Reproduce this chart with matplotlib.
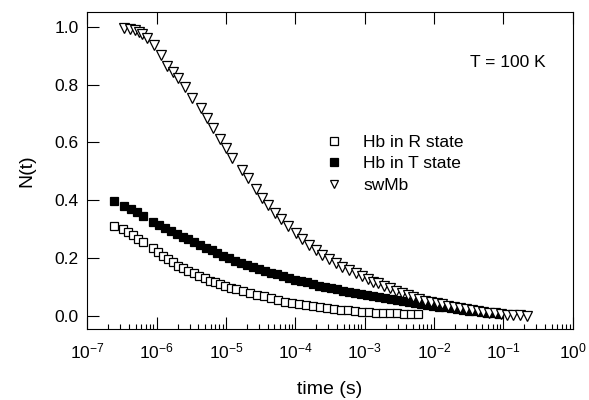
import matplotlib
matplotlib.use('Agg')
import matplotlib.pyplot as plt
from matplotlib.ticker import LogLocator, NullFormatter, FormatStrFormatter

plt.rcParams['font.family'] = ['Liberation Sans', 'DejaVu Sans']
plt.rcParams['mathtext.default'] = 'regular'

# Hb in R state (open squares)
t_R = [2.42e-7, 3.23e-7, 3.89e-7, 4.60e-7, 5.43e-7, 6.28e-7, 8.93e-7, 1.05e-6,
       1.25e-6, 1.47e-6, 1.74e-6, 2.05e-6, 2.42e-6, 2.86e-6, 3.45e-6, 4.12e-6,
       4.98e-6, 5.88e-6, 6.94e-6, 8.19e-6, 9.67e-6, 1.17e-5, 1.39e-5, 1.76e-5,
       2.22e-5, 2.80e-5, 3.53e-5, 4.46e-5, 5.63e-5, 7.10e-5, 8.96e-5, 1.13e-4,
       1.43e-4, 1.80e-4, 2.27e-4, 2.87e-4, 3.62e-4, 4.56e-4, 5.76e-4, 7.27e-4,
       9.17e-4, 1.16e-3, 1.46e-3, 1.84e-3, 2.33e-3, 2.93e-3, 3.70e-3, 4.67e-3,
       5.90e-3]
N_R = [0.311, 0.300, 0.291, 0.279, 0.265, 0.254, 0.233, 0.221,
       0.208, 0.196, 0.185, 0.173, 0.164, 0.155, 0.147, 0.138,
       0.129, 0.121, 0.116, 0.109, 0.103, 0.097, 0.091, 0.085,
       0.079, 0.073, 0.067, 0.061, 0.055, 0.049, 0.045, 0.041,
       0.038, 0.034, 0.031, 0.028, 0.024, 0.021, 0.019, 0.016,
       0.014, 0.012, 0.011, 0.010, 0.009, 0.008, 0.007, 0.006,
       0.005]

# Hb in T state (filled squares)
t_T = [2.42e-7, 3.37e-7, 4.22e-7, 5.25e-7, 6.28e-7, 8.93e-7, 1.09e-6, 1.32e-6,
       1.59e-6, 1.94e-6, 2.37e-6, 2.86e-6, 3.45e-6, 4.22e-6, 5.14e-6, 6.22e-6,
       7.49e-6, 9.14e-6, 1.12e-5, 1.35e-5, 1.65e-5, 2.01e-5, 2.45e-5, 2.99e-5,
       3.65e-5, 4.46e-5, 5.44e-5, 6.65e-5, 8.11e-5, 9.90e-5, 1.21e-4, 1.48e-4,
       1.80e-4, 2.20e-4, 2.68e-4, 3.27e-4, 4.00e-4, 4.88e-4, 5.96e-4, 7.27e-4,
       8.87e-4, 1.08e-3, 1.32e-3, 1.61e-3, 1.97e-3, 2.40e-3, 2.93e-3, 3.58e-3,
       4.37e-3, 5.34e-3, 6.51e-3, 7.95e-3, 9.70e-3, 1.18e-2, 1.45e-2, 1.77e-2,
       2.15e-2, 2.63e-2, 3.21e-2, 3.92e-2, 4.78e-2, 5.84e-2, 7.12e-2, 8.70e-2]
N_T = [0.397, 0.379, 0.368, 0.358, 0.346, 0.323, 0.314, 0.305,
       0.294, 0.284, 0.273, 0.264, 0.255, 0.245, 0.235, 0.226,
       0.217, 0.208, 0.199, 0.189, 0.181, 0.174, 0.167, 0.160,
       0.154, 0.148, 0.143, 0.137, 0.131, 0.125, 0.120, 0.115,
       0.110, 0.104, 0.099, 0.095, 0.091, 0.086, 0.082, 0.079,
       0.075, 0.072, 0.068, 0.065, 0.061, 0.058, 0.054, 0.051,
       0.047, 0.044, 0.040, 0.037, 0.034, 0.031, 0.029, 0.026,
       0.023, 0.020, 0.018, 0.015, 0.012, 0.010, 0.008, 0.006]

# swMb (open down-triangles)
t_sw = [3.41e-7, 4.12e-7, 4.86e-7, 5.55e-7, 6.20e-7, 7.17e-7, 9.23e-7, 1.14e-6,
        1.39e-6, 1.70e-6, 2.05e-6, 2.56e-6, 3.26e-6, 4.36e-6, 5.27e-6, 6.56e-6,
        8.19e-6, 9.90e-6, 1.21e-5, 1.69e-5, 2.06e-5, 2.68e-5, 3.34e-5, 4.00e-5,
        5.10e-5, 6.22e-5, 7.93e-5, 1.01e-4, 1.26e-4, 1.58e-4, 1.97e-4, 2.45e-4,
        3.06e-4, 3.83e-4, 4.77e-4, 5.96e-4, 7.44e-4, 9.26e-4, 1.13e-3, 1.34e-3,
        1.58e-3, 1.92e-3, 2.33e-3, 2.81e-3, 3.43e-3, 4.19e-3, 5.04e-3, 6.10e-3,
        7.44e-3, 9.08e-3, 1.10e-2, 1.32e-2, 1.61e-2, 1.97e-2, 2.38e-2, 2.88e-2,
        3.51e-2, 4.29e-2, 5.16e-2, 6.24e-2, 7.62e-2, 9.30e-2, 1.12e-1, 1.40e-1,
        1.75e-1, 2.18e-1]
N_sw = [0.997, 0.992, 0.988, 0.983, 0.974, 0.962, 0.937, 0.902,
        0.865, 0.843, 0.822, 0.792, 0.752, 0.720, 0.685, 0.648,
        0.610, 0.581, 0.547, 0.505, 0.475, 0.437, 0.406, 0.383,
        0.356, 0.334, 0.310, 0.285, 0.264, 0.245, 0.227, 0.210,
        0.195, 0.181, 0.170, 0.158, 0.147, 0.137, 0.128, 0.118,
        0.112, 0.104, 0.095, 0.086, 0.078, 0.072, 0.064, 0.058,
        0.052, 0.049, 0.043, 0.040, 0.035, 0.031, 0.028, 0.023,
        0.020, 0.016, 0.014, 0.010, 0.008, 0.005, 0.003, 0.002,
        0.001, 0.000]

yticks = [0.0, 0.2, 0.4, 0.6, 0.8, 1.0]

fig = plt.figure(figsize=(5.89, 4.0), dpi=100)
ax = fig.add_axes([0.1482, 0.1775, 0.8241, 0.7933])

ax.plot(t_R, N_R, linestyle='none', marker='s', ms=6.4, mfc='white', mec='black',
        mew=0.9, label='Hb in R state')
ax.plot(t_T, N_T, linestyle='none', marker='s', ms=6.4, mfc='black', mec='black',
        mew=0.9, label='Hb in T state')
ax.plot(t_sw, N_sw, linestyle='none', marker='v', ms=7.2, mfc='white', mec='black',
        mew=0.9, label='swMb')

ax.set_xscale('log')
ax.set_xlim(1e-7, 1e0)
ax.set_ylim(-0.046, 1.052)
ax.set_yticks(yticks)
ax.yaxis.set_major_formatter(FormatStrFormatter('%.1f'))
ax.xaxis.set_major_locator(LogLocator(base=10, numticks=20))
ax.xaxis.set_minor_locator(LogLocator(base=10, subs=range(2, 10), numticks=20))
ax.xaxis.set_minor_formatter(NullFormatter())

ax.tick_params(axis='both', which='major', direction='in', length=8.5, width=0.8,
               labelsize=12.5)
ax.tick_params(axis='x', which='major', top=True, pad=9)
ax.tick_params(axis='x', which='minor', direction='in', length=3.6, width=0.8, top=False)
ax.tick_params(axis='y', which='major', right=False, pad=6)
for s in ax.spines.values():
    s.set_linewidth(0.8)

ax.set_xlabel('time (s)', fontsize=14, labelpad=14)
ax.set_ylabel('N(t)', fontsize=14, labelpad=14)

ax.text(0.8665, 0.84, 'T = 100 K', transform=ax.transAxes, fontsize=12.5,
        ha='center', va='center')

ax.legend(loc='upper left', bbox_to_anchor=(0.4897, 0.611), frameon=False,
          fontsize=12.5, handlelength=1.0, handletextpad=1.2, borderpad=0,
          borderaxespad=0, labelspacing=0.35, markerscale=0.8)

plt.savefig('out.png', dpi=100)
